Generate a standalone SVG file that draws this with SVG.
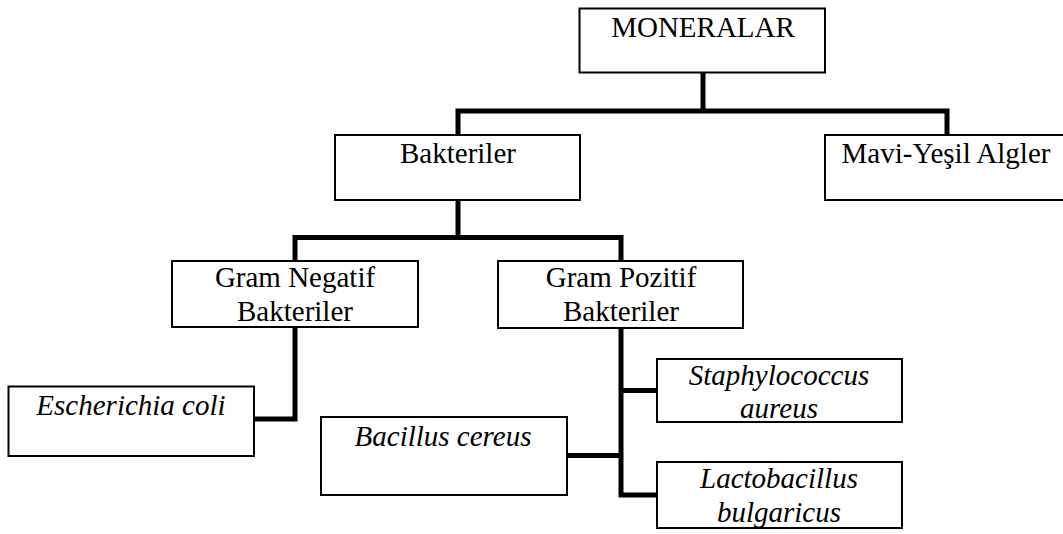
<svg xmlns="http://www.w3.org/2000/svg" width="1063" height="534" viewBox="0 0 1063 534">
  <style>
    .box { fill: #ffffff; stroke: #000000; stroke-width: 2; }
    .lbl { font-family: "Liberation Serif", "Times New Roman", serif; font-size: 29px; fill: #000000; text-anchor: middle; }
    .it { font-style: italic; }
    .link { fill: none; stroke: #000000; stroke-width: 5; stroke-linejoin: miter; stroke-linecap: butt; }
  </style>
  <rect width="1063" height="534" fill="#ffffff"/>

  <!-- tree connectors -->
  <g id="connectors">
    <path class="link" d="M703 73 V111"/>
    <path class="link" d="M458 135 V111 H947 V135"/>
    <path class="link" d="M458 200 V237.5"/>
    <path class="link" d="M295 261 V237.5 H621 V261"/>
    <path class="link" d="M295 327 V419 H254"/>
    <path class="link" d="M621 328 V495 H657"/>
    <path class="link" d="M621 390.5 H657"/>
    <path class="link" d="M567 455.5 H621"/>
  </g>

  <g id="moneralar">
    <rect class="box" x="579.5" y="8.5" width="245.5" height="64"/>
    <text class="lbl" x="703" y="37">MONERALAR</text>
  </g>

  <g id="bakteriler">
    <rect class="box" x="335" y="135" width="245" height="65"/>
    <text class="lbl" x="458" y="163">Bakteriler</text>
  </g>

  <g id="mavi-yesil-algler">
    <rect class="box" x="825" y="135" width="245" height="65"/>
    <text class="lbl" x="946" y="163">Mavi-Yeşil Algler</text>
  </g>

  <g id="gram-negatif">
    <rect class="box" x="172" y="261" width="246" height="66"/>
    <text class="lbl" x="295" y="287">Gram Negatif</text>
    <text class="lbl" x="295" y="321">Bakteriler</text>
  </g>

  <g id="gram-pozitif">
    <rect class="box" x="498" y="261" width="245" height="67"/>
    <text class="lbl" x="621" y="287">Gram Pozitif</text>
    <text class="lbl" x="621" y="321">Bakteriler</text>
  </g>

  <g id="escherichia-coli">
    <rect class="box" x="8.5" y="386.5" width="245.5" height="69.5"/>
    <text class="lbl it" x="131" y="415">Escherichia coli</text>
  </g>

  <g id="bacillus-cereus">
    <rect class="box" x="321" y="417" width="246" height="78"/>
    <text class="lbl it" x="443" y="446">Bacillus cereus</text>
  </g>

  <g id="staphylococcus-aureus">
    <rect class="box" x="657" y="359" width="245" height="63"/>
    <text class="lbl it" x="779" y="385">Staphylococcus</text>
    <text class="lbl it" x="779" y="418">aureus</text>
  </g>

  <g id="lactobacillus-bulgaricus">
    <rect class="box" x="657" y="462" width="245" height="66"/>
    <text class="lbl it" x="779" y="488">Lactobacillus</text>
    <text class="lbl it" x="779" y="522">bulgaricus</text>
  </g>
</svg>
